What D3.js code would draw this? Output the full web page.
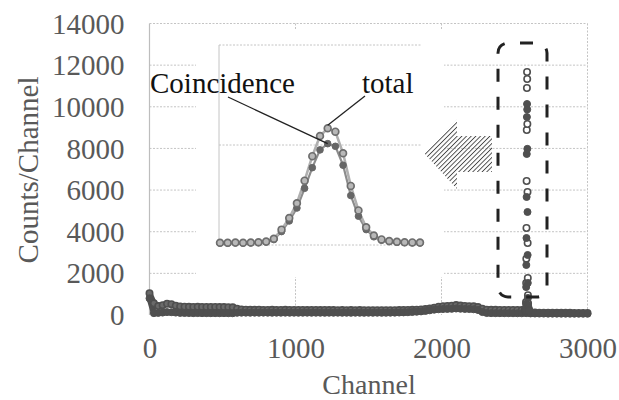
<!DOCTYPE html>
<html>
<head>
<meta charset="utf-8">
<script src="https://cdn.jsdelivr.net/npm/d3@7"></script>
<style>
  html, body { margin: 0; padding: 0; background: #fff; }
  svg { display: block; }
  text { font-family: "Liberation Serif", "Times New Roman", serif; }
</style>
</head>
<body>
<svg id="chart" width="619" height="400"></svg>
<script>
// ---- Full spectrum, sampled every 30 channels ----
const spectrumChannels = d3.range(0, 3001, 30);
const spectrumTotal = [
  1050, 560, 430, 470, 540, 520, 450, 410, 400, 395,
  390, 392, 388, 385, 390, 386, 383, 380, 378, 370,
  300, 265, 255, 250, 248, 252, 246, 244, 250, 245,
  242, 247, 243, 240, 245, 241, 238, 244, 239, 236,
  240, 235, 238, 234, 237, 233, 236, 232, 235, 231,
  234, 230, 233, 229, 232, 231, 234, 236, 240, 245,
  250, 258, 268, 285, 310, 350, 400, 425, 435, 445,
  475, 455, 435, 425, 415, 380, 300, 255, 250, 248,
  246, 245, 243, 242, 240, 238, 235, 130, 115, 112,
  110, 108, 107, 106, 105, 104, 103, 102, 101, 100,
  100
];
const spectrumCoinc = [
  800, 90, 100, 115, 140, 135, 115, 100, 95, 92,
  90, 92, 88, 90, 87, 89, 86, 88, 85, 84,
  105, 110, 112, 108, 111, 109, 113, 110, 107, 111,
  109, 112, 108, 110, 106, 109, 111, 107, 110, 108,
  105, 109, 107, 110, 106, 108, 105, 109, 107, 104,
  108, 106, 109, 105, 108, 110, 113, 118, 124, 132,
  142, 156, 172, 195, 225, 255, 275, 285, 290, 295,
  310, 300, 290, 285, 275, 240, 140, 95, 90, 88,
  87, 86, 85, 84, 83, 82, 90, 75, 70, 68,
  67, 66, 66, 65, 64, 64, 63, 62, 62, 61,
  60
];

// ---- Photopeak region, channel by channel ----
const peakChannels = d3.range(2572, 2599);
const peakTotal = [
  230, 220, 240, 230, 250, 270, 340, 620, 1537, 2700,
  4179, 6436, 8886, 10903, 11671, 11335, 9174, 5908, 3458, 1777,
  950, 560, 400, 320, 280, 260, 240
];
const peakCoinc = [
  190, 180, 200, 190, 210, 230, 290, 540, 1340, 2402,
  3698, 5668, 7733, 9510, 10134, 9870, 7980, 4947, 2882, 1540,
  820, 480, 340, 270, 240, 220, 200
];

// ---- Axis ticks ----
const yTicks = [0, 2000, 4000, 6000, 8000, 10000, 12000, 14000];
const xTicks = [0, 1000, 2000, 3000];
const insetYTicks = [0, 10000, 20000];

const svg = d3.select("#chart");
const defs = svg.append("defs");
defs.append("pattern")
  .attr("id", "hatch")
  .attr("patternUnits", "userSpaceOnUse")
  .attr("width", 3.3).attr("height", 3.3)
  .attr("patternTransform", "rotate(45)")
  .append("line")
  .attr("x1", 0).attr("y1", 0).attr("x2", 0).attr("y2", 3.3)
  .attr("stroke", "#444").attr("stroke-width", 1.8);

// Main scales
const x = d3.scaleLinear().domain([0, 3000]).range([149.5, 587.5]);
const y = d3.scaleLinear().domain([0, 14000]).range([315, 23.5]);

const gridColor = "#c4c4c4";
const labelColor = "#595959";
const markColor = "#4f4f4f";

// Gridlines
const grid = svg.append("g");
grid.selectAll("line.h").data(yTicks.filter(d => d > 0)).join("line")
  .attr("x1", x(0)).attr("x2", x(3000))
  .attr("y1", d => y(d)).attr("y2", d => y(d))
  .attr("stroke", gridColor).attr("stroke-width", 1)
  .attr("stroke-dasharray", "2,1.5");
grid.selectAll("line.v").data(xTicks.filter(d => d > 0)).join("line")
  .attr("x1", d => x(d)).attr("x2", d => x(d))
  .attr("y1", y(14000)).attr("y2", y(0))
  .attr("stroke", gridColor).attr("stroke-width", 1)
  .attr("stroke-dasharray", "2,1.5");
grid.append("line")
  .attr("x1", x(0)).attr("x2", x(0))
  .attr("y1", y(14000)).attr("y2", y(0))
  .attr("stroke", "#bdbdbd").attr("stroke-width", 1.2);

// Y axis
const yAxis = svg.append("g")
  .attr("transform", `translate(${x(0) - 25},0)`)
  .call(d3.axisLeft(y).tickValues(yTicks).tickSize(0).tickPadding(0).tickFormat(d3.format("d")));
yAxis.select(".domain").remove();
yAxis.selectAll("text")
  .attr("fill", labelColor)
  .style("font-size", "29px")
  .style("font-family", "'Liberation Serif', serif")
  .attr("dy", "0.33em");

// X axis
const xAxis = svg.append("g")
  .attr("transform", `translate(0,${y(0) + 22})`)
  .call(d3.axisBottom(x).tickValues(xTicks).tickSize(0).tickPadding(0).tickFormat(d3.format("d")));
xAxis.select(".domain").remove();
xAxis.selectAll("text")
  .attr("fill", labelColor)
  .style("font-size", "29px")
  .style("font-family", "'Liberation Serif', serif")
  .attr("dy", "0.71em");

// Axis titles
svg.append("text")
  .attr("x", 369).attr("y", 394)
  .attr("text-anchor", "middle")
  .attr("fill", labelColor)
  .style("font-size", "28px")
  .text("Channel");
svg.append("text")
  .attr("transform", "translate(38,170) rotate(-90)")
  .attr("text-anchor", "middle")
  .attr("fill", labelColor)
  .style("font-size", "29px")
  .text("Counts/Channel");

// Main spectrum: connecting lines through the sampled spectrum, then markers
const main = svg.append("g");
const specLine = d3.line().x((d, i) => x(spectrumChannels[i])).y(d => y(d));
main.append("path").datum(spectrumCoinc)
  .attr("d", specLine).attr("fill", "none")
  .attr("stroke", markColor).attr("stroke-width", 6).attr("stroke-linejoin", "round");
main.append("path").datum(spectrumTotal)
  .attr("d", specLine).attr("fill", "none")
  .attr("stroke", markColor).attr("stroke-width", 6).attr("stroke-linejoin", "round");

// Spectrum markers sit inside the dense band; the photopeak markers stand apart
const totalPts = spectrumChannels.map((c, i) => ({ c, v: spectrumTotal[i], peak: false }))
  .concat(peakChannels.map((c, i) => ({ c, v: peakTotal[i], peak: true })));
const coincPts = spectrumChannels.map((c, i) => ({ c, v: spectrumCoinc[i] }))
  .concat(peakChannels.map((c, i) => ({ c, v: peakCoinc[i] })));

main.selectAll("circle.t").data(totalPts).join("circle")
  .attr("cx", d => x(d.c)).attr("cy", d => y(d.v)).attr("r", 3.2)
  .attr("fill", d => d.peak ? "#fff" : "#6a6a6a")
  .attr("stroke", markColor).attr("stroke-width", 1.6);
main.selectAll("circle.c").data(coincPts).join("circle")
  .attr("cx", d => x(d.c)).attr("cy", d => y(d.v)).attr("r", 3.5)
  .attr("fill", markColor).attr("stroke", markColor).attr("stroke-width", 1);

// ---- Inset: magnified photopeak ----
const ix = d3.scaleLinear().domain([2572, 2598]).range([220, 420]);
const iy = d3.scaleLinear().domain([0, 20000]).range([245, 45]);

const inset = svg.append("g");
inset.append("rect")
  .attr("x", 196).attr("y", 30).attr("width", 248).attr("height", 247)
  .attr("fill", "#fff");
inset.selectAll("line.ig").data(insetYTicks).join("line")
  .attr("x1", 219).attr("x2", 421)
  .attr("y1", d => iy(d)).attr("y2", d => iy(d))
  .attr("stroke", gridColor).attr("stroke-dasharray", "2,1.5");
inset.append("line")
  .attr("x1", 219).attr("x2", 219)
  .attr("y1", iy(20000)).attr("y2", iy(0))
  .attr("stroke", gridColor);

const iLine = d3.line().x((d, i) => ix(peakChannels[i])).y(d => iy(d));
inset.append("path").datum(peakCoinc)
  .attr("d", iLine).attr("fill", "none")
  .attr("stroke", "#8c8c8c").attr("stroke-width", 2.2);
inset.append("path").datum(peakTotal)
  .attr("d", iLine).attr("fill", "none")
  .attr("stroke", "#b0b0b0").attr("stroke-width", 2.6);
inset.selectAll("circle.ic").data(peakCoinc).join("circle")
  .attr("cx", (d, i) => ix(peakChannels[i])).attr("cy", d => iy(d)).attr("r", 3.3)
  .attr("fill", "#666").attr("stroke", "#666").attr("stroke-width", 1);
inset.selectAll("circle.it").data(peakTotal).join("circle")
  .attr("cx", (d, i) => ix(peakChannels[i])).attr("cy", d => iy(d)).attr("r", 3.4)
  .attr("fill", "#b8b8b8").attr("stroke", "#6e6e6e").attr("stroke-width", 1.7);

// Callout labels with leader lines to the peak maxima
const peakIdx = d3.maxIndex(peakTotal);
svg.append("line")
  .attr("x1", 228).attr("y1", 97)
  .attr("x2", ix(peakChannels[peakIdx])).attr("y2", iy(peakCoinc[peakIdx]))
  .attr("stroke", "#222").attr("stroke-width", 1.3);
svg.append("line")
  .attr("x1", 365).attr("y1", 96)
  .attr("x2", ix(peakChannels[peakIdx])).attr("y2", iy(peakTotal[peakIdx]) - 3)
  .attr("stroke", "#222").attr("stroke-width", 1.3);
svg.append("text")
  .attr("x", 150).attr("y", 93)
  .attr("fill", "#111").style("font-size", "29px")
  .text("Coincidence");
svg.append("text")
  .attr("x", 362).attr("y", 93)
  .attr("fill", "#111").style("font-size", "29px")
  .text("total");

// Hatched arrow pointing from the peak column to the inset
svg.append("polygon")
  .attr("points", "424,153 457,119 457,136 492,136 492,172 457,172 457,189")
  .attr("fill", "url(#hatch)");

// Dashed frame around the peak column
svg.append("rect")
  .attr("x", 498).attr("y", 43).attr("width", 49).attr("height", 254)
  .attr("rx", 10).attr("ry", 10)
  .attr("fill", "none").attr("stroke", "#222").attr("stroke-width", 3)
  .attr("stroke-dasharray", "13,15").attr("stroke-dashoffset", 16);
</script>
</body>
</html>
